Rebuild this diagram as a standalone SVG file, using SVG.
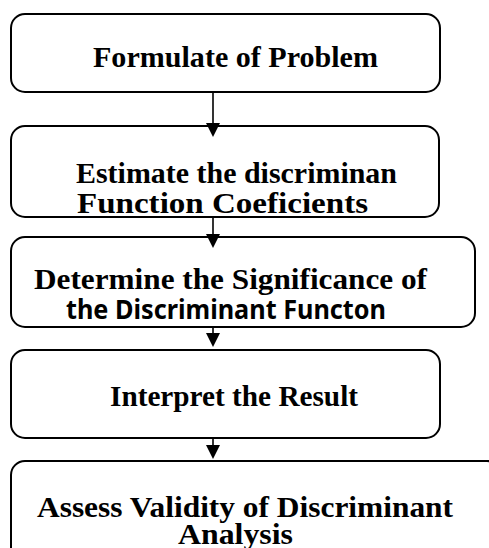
<svg xmlns="http://www.w3.org/2000/svg" width="489" height="548" viewBox="0 0 489 548">
<style>
.box{fill:#fff;stroke:#000;stroke-width:2}
.t{font-family:"Liberation Serif","Times New Roman",serif;font-weight:bold;font-size:30px;fill:#000}
.s{font-family:"Noto Sans","DejaVu Sans",sans-serif;font-weight:bold;font-size:27px;fill:#000}
.ln{stroke:#000;stroke-width:1.6;fill:none}
.hd{fill:#000}
</style>
<rect width="489" height="548" fill="#fff"/>
<g id="n1">
<rect class="box" x="11" y="14" width="429" height="78" rx="14"/>
<text class="t" x="93" y="67" textLength="285" lengthAdjust="spacingAndGlyphs">Formulate of Problem</text>
</g>
<g id="n2">
<rect class="box" x="11" y="126" width="428" height="91" rx="14"/>
<text class="t" x="76" y="183" textLength="321" lengthAdjust="spacingAndGlyphs">Estimate the discriminan</text>
<text class="t" x="77" y="213" textLength="291" lengthAdjust="spacingAndGlyphs">Function Coeficients</text>
</g>
<g id="n3">
<rect class="box" x="11" y="237" width="464" height="90" rx="14"/>
<text class="t" x="34" y="289" textLength="393" lengthAdjust="spacingAndGlyphs">Determine the Significance of</text>
<text class="s" x="66" y="319" textLength="320" lengthAdjust="spacingAndGlyphs">the Discriminant Functon</text>
</g>
<g id="n4">
<rect class="box" x="11" y="350" width="429" height="88" rx="14"/>
<text class="t" x="110" y="406" textLength="248" lengthAdjust="spacingAndGlyphs">Interpret the Result</text>
</g>
<g id="n5">
<rect class="box" x="11" y="461" width="490" height="120" rx="14"/>
<text class="t" x="37" y="517" textLength="416" lengthAdjust="spacingAndGlyphs">Assess Validity of Discriminant</text>
<text class="t" x="178" y="544" textLength="115" lengthAdjust="spacingAndGlyphs">Analysis</text>
</g>
<g id="connectors">
<line class="ln" x1="213" y1="92" x2="213" y2="125"/>
<polygon class="hd" points="206,123 220,123 213,137"/>
<line class="ln" x1="213" y1="217" x2="213" y2="236"/>
<polygon class="hd" points="206,234 220,234 213,248"/>
<line class="ln" x1="213" y1="327" x2="213" y2="335"/>
<polygon class="hd" points="206,333 220,333 213,347"/>
<line class="ln" x1="213" y1="438" x2="213" y2="447"/>
<polygon class="hd" points="206,445 220,445 213,459"/>
</g>
</svg>
